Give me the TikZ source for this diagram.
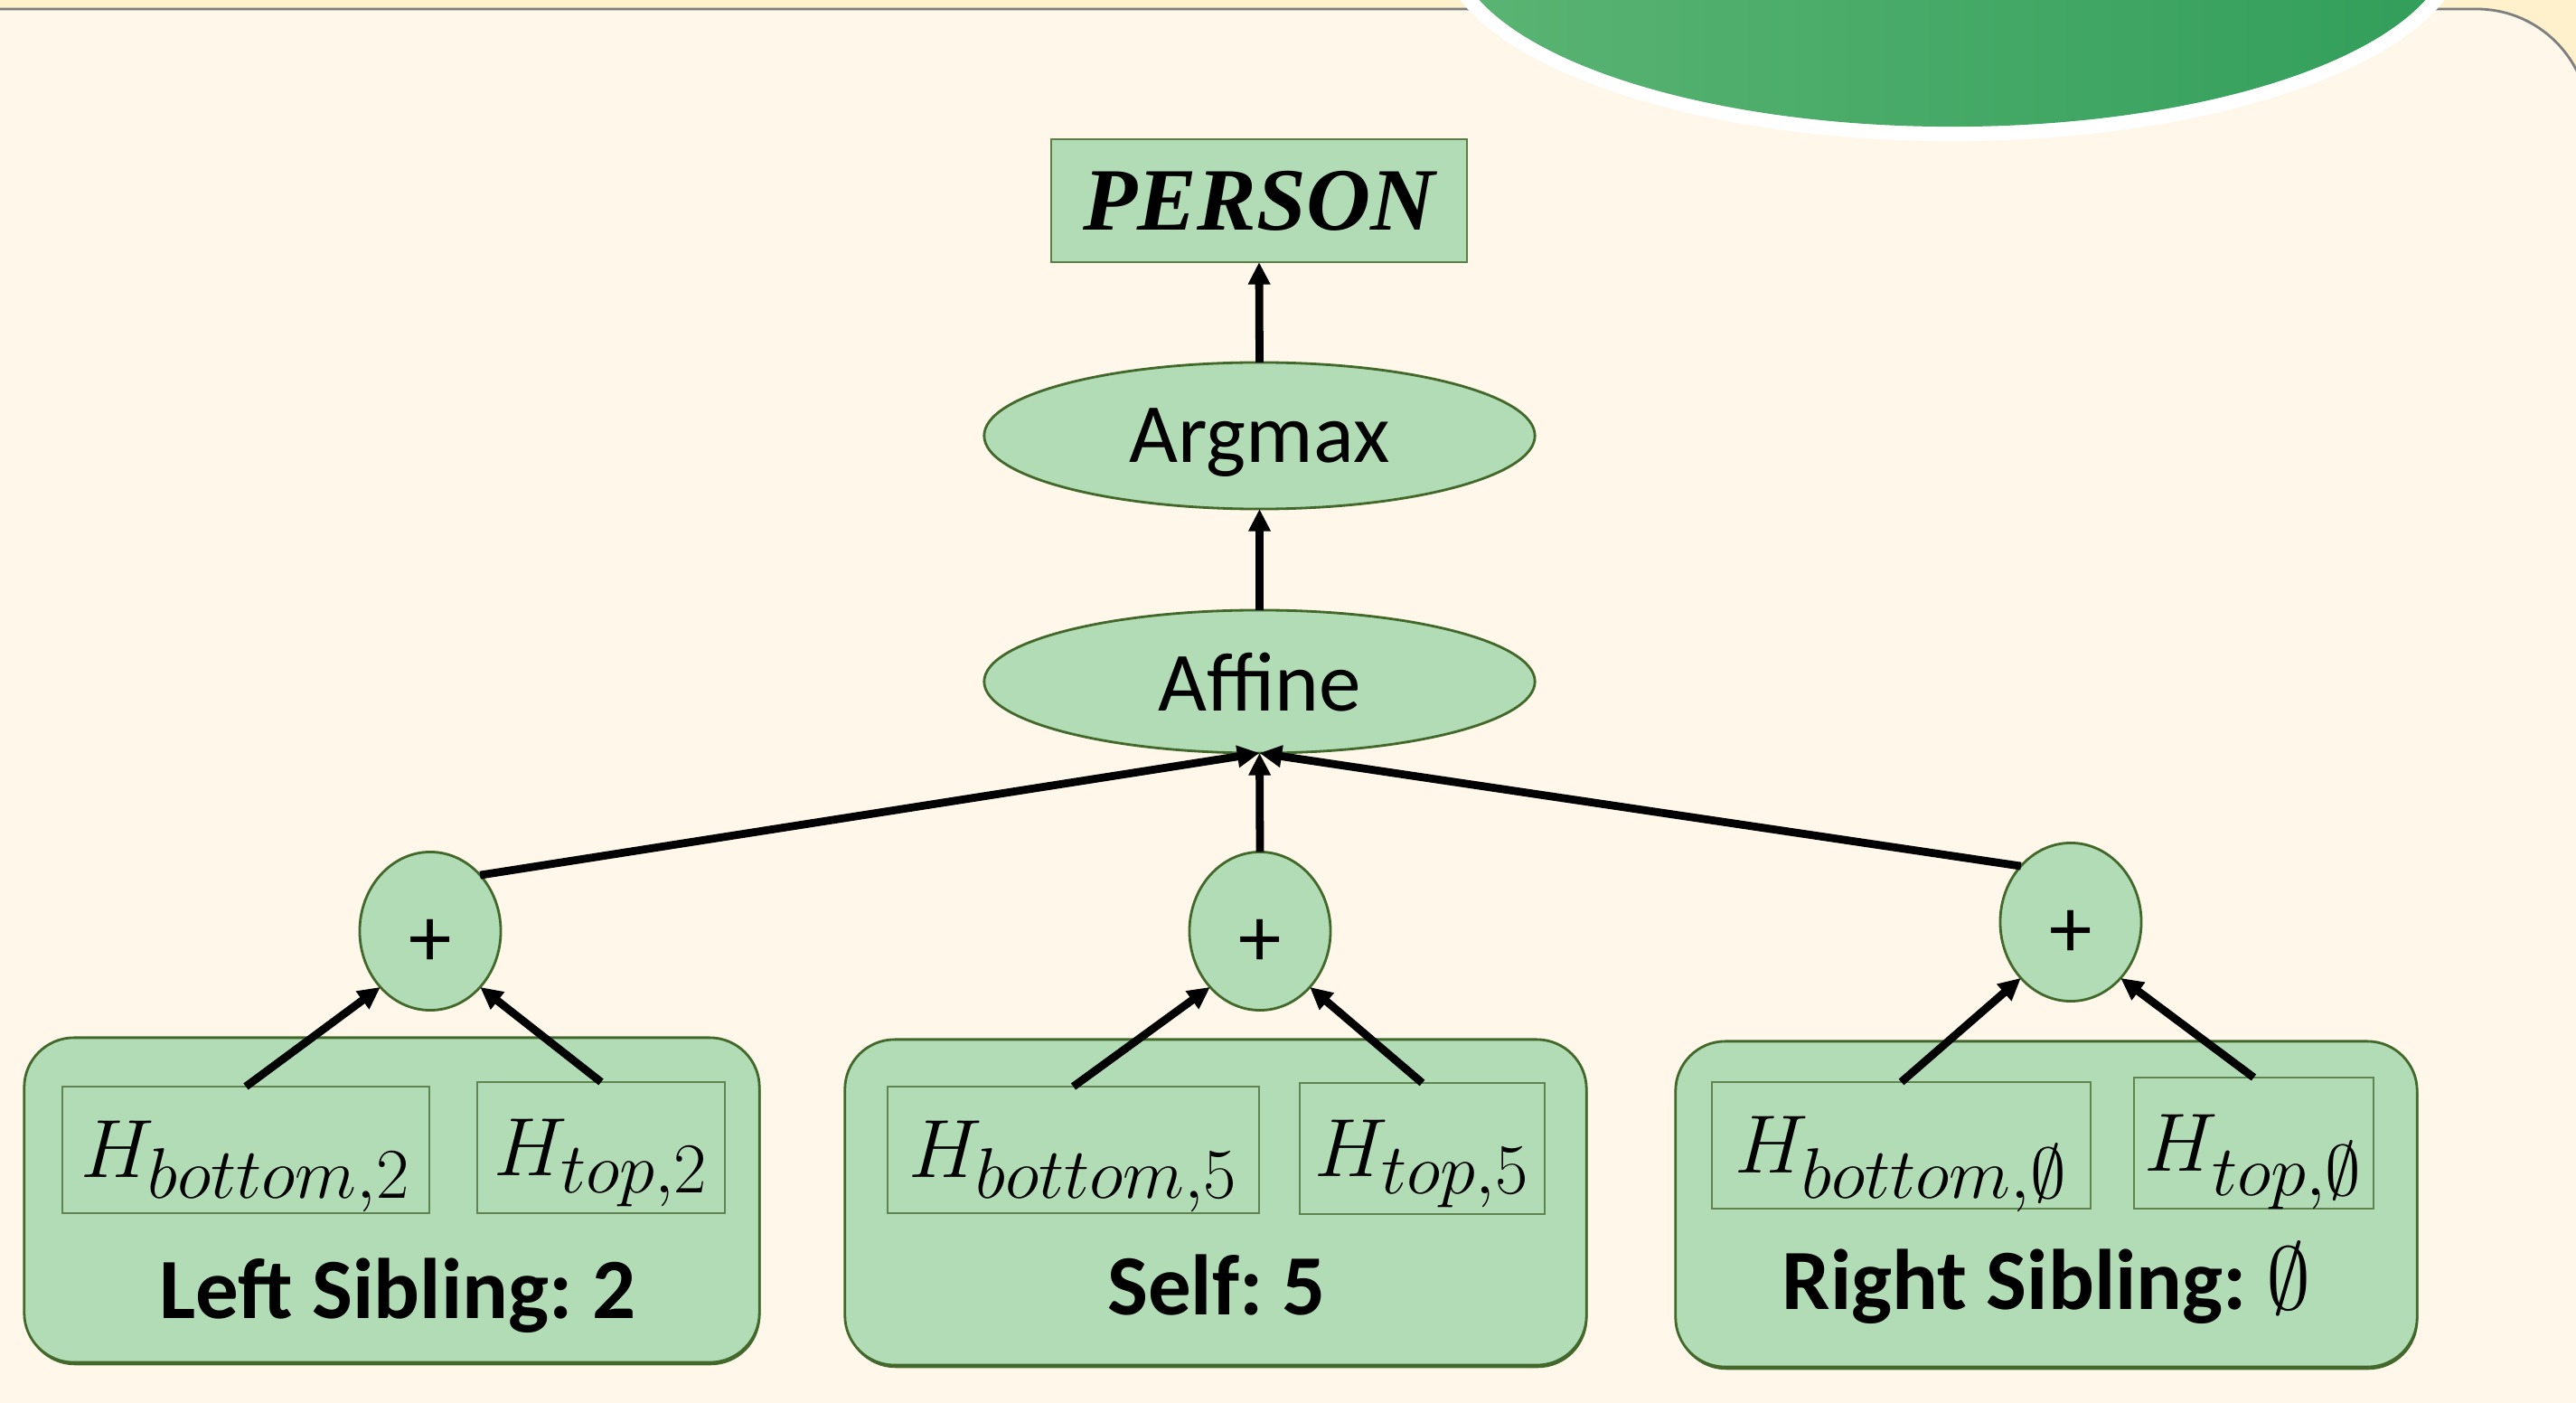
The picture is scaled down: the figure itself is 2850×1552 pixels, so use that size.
\RequirePackage{fix-cm}
\documentclass[tikz,border=0pt]{standalone}
\usepackage[no-math]{fontspec}
\newfontfamily\calfont{Carlito}
\newfontfamily\tnrfont{Liberation Serif}
\usetikzlibrary{arrows.meta,shapes.geometric,shadows}
\DeclareMathSizes{26}{26}{22.5}{15}
\DeclareMathSizes{27}{28}{20}{14}
\frenchspacing
\definecolor{cream}{HTML}{FFF8EA}
\definecolor{topstrip}{HTML}{FFF1CC}
\definecolor{panelgray}{HTML}{7F7F7F}
\definecolor{nodefill}{HTML}{B2DCB5}
\definecolor{nodeborder}{HTML}{43682B}
\definecolor{innerborder}{HTML}{5F8450}
\definecolor{personborder}{HTML}{5A8048}
\definecolor{gA}{HTML}{5BB473}
\definecolor{gB}{HTML}{319E5A}
\begin{document}
\begin{tikzpicture}[x=0.01cm,y=-0.01cm,
  every node/.style={inner sep=0pt, outer sep=0pt},
  gnode/.style={fill=nodefill, draw=nodeborder, line width=0.8pt},
  oval/.style={gnode, ellipse, minimum width=6.09cm, minimum height=1.62cm,
    font=\calfont\fontsize{26.5}{30}\selectfont, text depth=0pt},
  plusnode/.style={gnode, ellipse, minimum width=1.56cm, minimum height=1.75cm,
    font=\calfont\fontsize{27}{30}\selectfont, text height=0.78cm, text depth=0pt},
  bigbox/.style={gnode, rectangle, rounded corners=0.55cm,
    drop shadow={shadow xshift=0.3pt, shadow yshift=-0.9pt, fill=nodeborder, opacity=1}},
  hbox/.style={rectangle, draw=innerborder, line width=0.5pt, fill=nodefill,
    text height=0.65cm, text depth=0.04cm, font=\fontsize{26}{30}\selectfont},
  boxlabel/.style={anchor=base, font=\calfont\bfseries\fontsize{27}{32}\selectfont},
  arr/.style={line width=2.5pt, -{Triangle[length=7pt,width=6.6pt]}}
]
\useasboundingbox (0,0) rectangle (2850,1552);
% background
\fill[topstrip] (0,0) rectangle (2850,1552);
\path[fill=cream, draw=panelgray, line width=0.8pt]
  (-20,10) -- (2740,10) arc[start angle=90,end angle=0,radius=1.24cm]
  -- (2864,1600) -- (-20,1600) -- cycle;
% green blob at top
\fill[white] (2160,-66) ellipse[x radius=5.70cm, y radius=2.22cm];
\shade[left color=gA, right color=gB] (2160,-66) ellipse[x radius=5.52cm, y radius=2.06cm];

% upper nodes
\node[gnode, rectangle, minimum width=4.59cm, minimum height=1.36cm,
  draw=personborder, line width=0.6pt,
  font=\tnrfont\bfseries\itshape\fontsize{28}{32}\selectfont] (person) at (1393,222) {PERSON};
\node[oval] (argmax) at (1393.5,482) {Argmax};
\node[oval, minimum height=1.58cm] (affine) at (1393.5,754) {Affine};

% plus nodes
\node[plusnode] (plusL) at (476,1030) {+};
\node[plusnode] (plusM) at (1394,1030) {+};
\node[plusnode] (plusR) at (2291,1020) {+};

% bottom boxes
\node[bigbox, minimum width=8.13cm, minimum height=3.59cm] (boxL) at (433.5,1327.5) {};
\node[bigbox, minimum width=8.20cm, minimum height=3.60cm] (boxM) at (1345,1330) {};
\node[bigbox, minimum width=8.20cm, minimum height=3.60cm] (boxR) at (2264,1332) {};

\node[boxlabel] (labL) at (440,1458) {Left Sibling: 2};
\node[boxlabel] (labM) at (1346,1454) {Self: 5};
\node[boxlabel] (labR) at (2264,1448) {Right Sibling: $\emptyset$};

\node[hbox, minimum width=4.06cm, minimum height=1.40cm] (hbL) at (272,1272) {$H_{bottom,2}$};
\node[hbox, minimum width=2.74cm, minimum height=1.45cm] (htL) at (665,1269.5) {$H_{top,2}$};
\node[hbox, minimum width=4.11cm, minimum height=1.40cm] (hbM) at (1187.5,1272) {$H_{bottom,5}$};
\node[hbox, minimum width=2.71cm, minimum height=1.45cm] (htM) at (1573.5,1270.5) {$H_{top,5}$};
\node[hbox, minimum width=4.19cm, minimum height=1.40cm] (hbR) at (2103.5,1267) {$H_{bottom,\emptyset}$};
\node[hbox, minimum width=2.65cm, minimum height=1.45cm] (htR) at (2493.5,1264.5) {$H_{top,\emptyset}$};

% connectors
\draw[arr] (argmax.north) -- (person.south);
\draw[arr] (affine.north) -- (argmax.south);
\draw[arr] (plusM.north) -- (affine.south);
\draw[arr] (plusL.north east) -- (affine.south);
\draw[arr] (plusR.north west) -- (affine.south);

\draw[arr] (hbL.north) -- (plusL.south west);
\draw[arr] (htL.north) -- (plusL.south east);
\draw[arr] (hbM.north) -- (plusM.south west);
\draw[arr] (htM.north) -- (plusM.south east);
\draw[arr] (hbR.north) -- (plusR.south west);
\draw[arr] (htR.north) -- (plusR.south east);
\end{tikzpicture}
\end{document}
